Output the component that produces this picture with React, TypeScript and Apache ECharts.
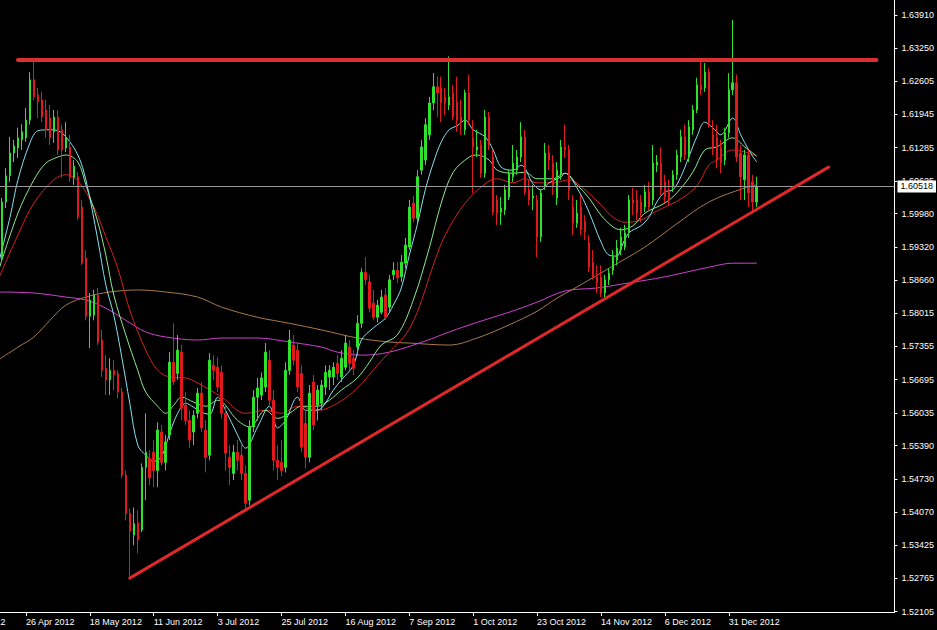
import React, { useEffect, useRef } from 'react';
import * as echarts from 'echarts';

// ---- Candles [open, close, low, high] grouped by month ----
const candlesApr2012 = [
  [1.5910, 1.6021, 1.5902, 1.6029], [1.6021, 1.6073, 1.6009, 1.6088], [1.6073, 1.6118, 1.6061, 1.6150],
  [1.6118, 1.6132, 1.6100, 1.6144], [1.6128, 1.6148, 1.6108, 1.6168], [1.6144, 1.6160, 1.6124, 1.6175],
  [1.6148, 1.6183, 1.6140, 1.6207], [1.6183, 1.6263, 1.6174, 1.6278], [1.6263, 1.6229, 1.6223, 1.6301],
];
const candlesMay2012 = [
  [1.6233, 1.6219, 1.6187, 1.6247], [1.6223, 1.6189, 1.6179, 1.6239], [1.6203, 1.6164, 1.6148, 1.6223],
  [1.6187, 1.6148, 1.6134, 1.6213], [1.6160, 1.6189, 1.6138, 1.6203], [1.6189, 1.6124, 1.6114, 1.6203],
  [1.6164, 1.6124, 1.6069, 1.6174], [1.6128, 1.6148, 1.6120, 1.6179], [1.6130, 1.6069, 1.6061, 1.6154],
  [1.6069, 1.6092, 1.6055, 1.6104], [1.6071, 1.5991, 1.5985, 1.6080], [1.6011, 1.5900, 1.5896, 1.6025],
  [1.5910, 1.5795, 1.5787, 1.5926], [1.5795, 1.5827, 1.5732, 1.5841], [1.5797, 1.5837, 1.5787, 1.5847],
  [1.5837, 1.5744, 1.5738, 1.5851], [1.5748, 1.5688, 1.5675, 1.5768], [1.5692, 1.5669, 1.5639, 1.5718],
  [1.5669, 1.5688, 1.5639, 1.5712], [1.5688, 1.5679, 1.5649, 1.5708], [1.5682, 1.5645, 1.5633, 1.5688],
  [1.5645, 1.5481, 1.5475, 1.5653], [1.5481, 1.5405, 1.5391, 1.5490],
];
const candlesJun2012 = [
  [1.5405, 1.5370, 1.5275, 1.5415], [1.5362, 1.5385, 1.5342, 1.5417], [1.5387, 1.5352, 1.5326, 1.5411],
  [1.5372, 1.5496, 1.5368, 1.5504], [1.5496, 1.5526, 1.5431, 1.5603], [1.5514, 1.5475, 1.5461, 1.5530],
  [1.5526, 1.5490, 1.5457, 1.5550], [1.5490, 1.5570, 1.5457, 1.5585], [1.5566, 1.5506, 1.5500, 1.5580],
  [1.5506, 1.5546, 1.5490, 1.5560], [1.5560, 1.5704, 1.5550, 1.5724], [1.5704, 1.5665, 1.5659, 1.5781],
  [1.5682, 1.5728, 1.5669, 1.5758], [1.5724, 1.5613, 1.5589, 1.5738], [1.5619, 1.5589, 1.5580, 1.5645],
  [1.5589, 1.5550, 1.5534, 1.5609], [1.5566, 1.5599, 1.5540, 1.5609], [1.5603, 1.5643, 1.5593, 1.5653],
  [1.5643, 1.5574, 1.5566, 1.5665], [1.5570, 1.5516, 1.5486, 1.5589], [1.5520, 1.5708, 1.5510, 1.5722],
];
const candlesJul2012 = [
  [1.5698, 1.5688, 1.5669, 1.5718], [1.5694, 1.5655, 1.5645, 1.5714], [1.5684, 1.5603, 1.5593, 1.5698],
  [1.5603, 1.5524, 1.5490, 1.5619], [1.5516, 1.5496, 1.5461, 1.5540], [1.5484, 1.5526, 1.5471, 1.5540],
  [1.5526, 1.5510, 1.5490, 1.5550], [1.5520, 1.5484, 1.5471, 1.5540], [1.5484, 1.5425, 1.5409, 1.5500],
  [1.5431, 1.5576, 1.5421, 1.5589], [1.5576, 1.5635, 1.5566, 1.5649], [1.5635, 1.5653, 1.5589, 1.5673],
  [1.5639, 1.5673, 1.5629, 1.5684], [1.5655, 1.5724, 1.5645, 1.5742], [1.5708, 1.5629, 1.5619, 1.5728],
  [1.5629, 1.5510, 1.5490, 1.5649], [1.5510, 1.5496, 1.5471, 1.5540], [1.5506, 1.5490, 1.5479, 1.5550],
  [1.5496, 1.5688, 1.5486, 1.5704], [1.5688, 1.5748, 1.5679, 1.5768], [1.5738, 1.5708, 1.5698, 1.5758],
  [1.5728, 1.5655, 1.5645, 1.5744],
];
const candlesAug2012 = [
  [1.5682, 1.5536, 1.5526, 1.5698], [1.5583, 1.5516, 1.5494, 1.5609], [1.5516, 1.5643, 1.5506, 1.5659],
  [1.5665, 1.5580, 1.5570, 1.5679], [1.5619, 1.5649, 1.5589, 1.5659], [1.5623, 1.5659, 1.5609, 1.5669],
  [1.5655, 1.5684, 1.5639, 1.5698], [1.5675, 1.5688, 1.5649, 1.5698], [1.5675, 1.5694, 1.5659, 1.5704],
  [1.5702, 1.5682, 1.5669, 1.5718], [1.5675, 1.5712, 1.5665, 1.5728], [1.5694, 1.5742, 1.5688, 1.5758],
  [1.5734, 1.5702, 1.5688, 1.5748], [1.5712, 1.5692, 1.5679, 1.5728], [1.5734, 1.5781, 1.5718, 1.5797],
  [1.5781, 1.5882, 1.5772, 1.5890], [1.5882, 1.5867, 1.5857, 1.5912], [1.5863, 1.5811, 1.5803, 1.5877],
  [1.5821, 1.5793, 1.5787, 1.5847], [1.5793, 1.5817, 1.5783, 1.5827], [1.5803, 1.5833, 1.5799, 1.5847],
  [1.5837, 1.5793, 1.5787, 1.5851], [1.5813, 1.5867, 1.5803, 1.5877],
];
const candlesSep2012 = [
  [1.5877, 1.5886, 1.5867, 1.5902], [1.5886, 1.5871, 1.5861, 1.5902], [1.5873, 1.5902, 1.5863, 1.5916],
  [1.5900, 1.5936, 1.5890, 1.5950], [1.5932, 1.6011, 1.5926, 1.6025], [1.6019, 1.5989, 1.5981, 1.6033],
  [1.5989, 1.6071, 1.5981, 1.6084], [1.6084, 1.6130, 1.6075, 1.6144], [1.6104, 1.6174, 1.6094, 1.6187],
  [1.6154, 1.6217, 1.6144, 1.6229], [1.6217, 1.6249, 1.6203, 1.6276], [1.6249, 1.6237, 1.6189, 1.6269],
  [1.6247, 1.6217, 1.6179, 1.6269], [1.6229, 1.6217, 1.6193, 1.6247], [1.6213, 1.6229, 1.6203, 1.6309],
  [1.6237, 1.6189, 1.6183, 1.6253], [1.6219, 1.6183, 1.6160, 1.6269], [1.6189, 1.6179, 1.6154, 1.6223],
  [1.6164, 1.6237, 1.6154, 1.6243], [1.6237, 1.6183, 1.6174, 1.6273],
];
const candlesOct2012 = [
  [1.6148, 1.6130, 1.6039, 1.6183], [1.6124, 1.6130, 1.6110, 1.6164], [1.6134, 1.6078, 1.6069, 1.6144],
  [1.6078, 1.6189, 1.6069, 1.6203], [1.6189, 1.6134, 1.6124, 1.6199], [1.6110, 1.6001, 1.5995, 1.6124],
  [1.6025, 1.5999, 1.5976, 1.6035], [1.6001, 1.6009, 1.5976, 1.6031], [1.6005, 1.6045, 1.5995, 1.6055],
  [1.6031, 1.6078, 1.6025, 1.6084], [1.6071, 1.6098, 1.6061, 1.6134], [1.6084, 1.6110, 1.6075, 1.6124],
  [1.6110, 1.6150, 1.6100, 1.6179], [1.6150, 1.6041, 1.6035, 1.6164], [1.6045, 1.6025, 1.6015, 1.6065],
  [1.6029, 1.6033, 1.6005, 1.6055], [1.6025, 1.5952, 1.5912, 1.6035], [1.5952, 1.6039, 1.5942, 1.6045],
  [1.6051, 1.6118, 1.6045, 1.6138], [1.6118, 1.6104, 1.6084, 1.6134], [1.6098, 1.6051, 1.6035, 1.6114],
  [1.6029, 1.6084, 1.6015, 1.6100], [1.6075, 1.6130, 1.6065, 1.6144],
];
const candlesNov2012 = [
  [1.6130, 1.6124, 1.6108, 1.6174], [1.6124, 1.6045, 1.6025, 1.6134], [1.6011, 1.5979, 1.5956, 1.6035],
  [1.5979, 1.5999, 1.5970, 1.6025], [1.6011, 1.5966, 1.5956, 1.6035], [1.5983, 1.5962, 1.5946, 1.5995],
  [1.5940, 1.5892, 1.5882, 1.5956], [1.5902, 1.5873, 1.5867, 1.5926], [1.5873, 1.5861, 1.5841, 1.5896],
  [1.5873, 1.5841, 1.5833, 1.5896], [1.5841, 1.5867, 1.5833, 1.5877], [1.5867, 1.5880, 1.5857, 1.5890],
  [1.5886, 1.5912, 1.5877, 1.5926], [1.5906, 1.5930, 1.5896, 1.5946], [1.5926, 1.5952, 1.5916, 1.5970],
  [1.5932, 1.5960, 1.5926, 1.5976], [1.5960, 1.6025, 1.5950, 1.6035], [1.6025, 1.6019, 1.5995, 1.6049],
  [1.6025, 1.5999, 1.5985, 1.6045], [1.6021, 1.5999, 1.5981, 1.6035], [1.6011, 1.6041, 1.6001, 1.6055],
  [1.6041, 1.6011, 1.6005, 1.6061],
];
const candlesDec2012 = [
  [1.6025, 1.6098, 1.6015, 1.6134], [1.6094, 1.6100, 1.6080, 1.6114], [1.6098, 1.6045, 1.6035, 1.6130],
  [1.6061, 1.6031, 1.6019, 1.6075], [1.6041, 1.6025, 1.6015, 1.6065], [1.6051, 1.6075, 1.6041, 1.6084],
  [1.6075, 1.6114, 1.6065, 1.6124], [1.6110, 1.6150, 1.6100, 1.6164], [1.6150, 1.6114, 1.6104, 1.6174],
  [1.6110, 1.6170, 1.6100, 1.6183], [1.6164, 1.6203, 1.6154, 1.6213], [1.6203, 1.6253, 1.6197, 1.6267],
  [1.6253, 1.6243, 1.6233, 1.6298], [1.6247, 1.6278, 1.6239, 1.6296], [1.6278, 1.6177, 1.6168, 1.6286],
  [1.6154, 1.6130, 1.6114, 1.6183], [1.6148, 1.6104, 1.6088, 1.6174], [1.6128, 1.6098, 1.6078, 1.6144],
  [1.6104, 1.6158, 1.6094, 1.6168], [1.6158, 1.6243, 1.6148, 1.6276],
];
const candlesJan2013 = [
  [1.6243, 1.6257, 1.6233, 1.6381], [1.6257, 1.6110, 1.6100, 1.6273], [1.6118, 1.6071, 1.6025, 1.6134],
  [1.6065, 1.6114, 1.6025, 1.6124], [1.6114, 1.6039, 1.6011, 1.6124], [1.6061, 1.6021, 1.6001, 1.6075],
  [1.6021, 1.60518, 1.6011, 1.6071],
];

// ---- Moving averages: [bar index, price] ----
const maFast = [[-1,1.5896],[2,1.5991],[4,1.6065],[7,1.6138],[9,1.6162],[12,1.6164],[14,1.6162],[16,1.6150],[19,1.6114],[21,1.6065],[24,1.5946],[26,1.5857],[28,1.5797],[30,1.5714],[32,1.5623],[34,1.5540],[36,1.5520],[38,1.5508],[40,1.5518],[42,1.5564],[44,1.5603],[46,1.5623],[48,1.5615],[50,1.5605],[52,1.5601],[54,1.5635],[56,1.5609],[59,1.5560],[61,1.5534],[64,1.5576],[67,1.5617],[69,1.5574],[71,1.5589],[74,1.5635],[76,1.5609],[78,1.5609],[80,1.5613],[83,1.5649],[85,1.5669],[88,1.5698],[90,1.5748],[93,1.5772],[96,1.5791],[98,1.5817],[100,1.5851],[102,1.5916],[104,1.5976],[106,1.6045],[108,1.6098],[110,1.6140],[112,1.6164],[114,1.6172],[116,1.6183],[118,1.6164],[121,1.6150],[123,1.6124],[125,1.6090],[128,1.6084],[130,1.6094],[133,1.6057],[135,1.6045],[137,1.6059],[140,1.6071],[141,1.6078],[144,1.6049],[147,1.6001],[150,1.5942],[152,1.5916],[154,1.5914],[155,1.5930],[157,1.5960],[160,1.5974],[162,1.5991],[164,1.6021],[166,1.6041],[168,1.6045],[170,1.6071],[172,1.6110],[174,1.6150],[176,1.6179],[178,1.6168],[180,1.6154],[183,1.6187],[185,1.6154],[187,1.6124],[189,1.6100]];
const maMid = [[-1,1.5882],[4,1.5999],[8,1.6065],[11,1.6098],[14,1.6110],[16,1.6114],[19,1.6100],[21,1.6055],[24,1.5981],[26,1.5916],[28,1.5837],[31,1.5758],[34,1.5688],[36,1.5645],[39,1.5617],[41,1.5603],[43,1.5619],[45,1.5635],[48,1.5625],[51,1.5617],[54,1.5629],[59,1.5589],[62,1.5576],[66,1.5609],[69,1.5593],[72,1.5603],[75,1.5617],[79,1.5617],[82,1.5629],[85,1.5649],[89,1.5673],[92,1.5704],[95,1.5738],[99,1.5758],[103,1.5827],[107,1.5930],[110,1.6019],[113,1.6080],[117,1.6110],[119,1.6114],[122,1.6104],[124,1.6084],[128,1.6078],[131,1.6080],[134,1.6067],[138,1.6067],[141,1.6078],[144,1.6055],[147,1.6029],[150,1.5995],[153,1.5972],[155,1.5966],[158,1.5974],[161,1.5999],[166,1.6019],[169,1.6039],[173,1.6080],[176,1.6124],[179,1.6130],[183,1.6148],[186,1.6130],[189,1.6112]];
const maSlow = [[-1,1.5867],[4,1.5956],[8,1.6019],[13,1.6065],[16,1.6075],[19,1.6063],[23,1.6011],[26,1.5952],[29,1.5890],[32,1.5807],[36,1.5728],[39,1.5688],[42,1.5675],[46,1.5673],[49,1.5663],[55,1.5635],[61,1.5603],[66,1.5609],[70,1.5603],[74,1.5617],[79,1.5609],[84,1.5623],[89,1.5653],[94,1.5698],[97,1.5724],[101,1.5758],[104,1.5803],[108,1.5896],[111,1.5956],[116,1.6019],[121,1.6057],[124,1.6067],[128,1.6059],[131,1.6067],[134,1.6059],[138,1.6059],[142,1.6065],[146,1.6045],[150,1.6015],[153,1.5991],[156,1.5981],[160,1.5985],[163,1.5999],[166,1.6011],[170,1.6027],[174,1.6053],[177,1.6094],[179,1.6104],[183,1.6124],[186,1.6120],[189,1.6112]];
const ma100 = [[-1,1.5708],[4,1.5734],[8,1.5754],[12,1.5787],[16,1.5817],[21,1.5833],[27,1.5843],[34,1.5847],[41,1.5843],[49,1.5833],[55,1.5813],[64,1.5793],[72,1.5781],[80,1.5768],[89,1.5752],[97,1.5744],[102,1.5742],[112,1.5738],[119,1.5752],[127,1.5778],[134,1.5805],[139,1.5831],[144,1.5853],[152,1.5890],[161,1.5932],[169,1.5978],[177,1.6021],[186,1.6049],[189,1.6055]];
const ma200 = [[-1,1.5843],[8,1.5841],[16,1.5833],[21,1.5827],[26,1.5811],[31,1.5787],[36,1.5764],[41,1.5754],[49,1.5748],[55,1.5752],[64,1.5752],[72,1.5744],[80,1.5734],[84,1.5724],[90,1.5718],[97,1.5724],[106,1.5746],[112,1.5764],[119,1.5783],[127,1.5803],[134,1.5823],[141,1.5845],[149,1.5851],[157,1.5861],[166,1.5873],[177,1.5892],[183,1.5900],[189,1.5900]];

// ---- Drawn lines ----
const resistance = { fromBar: 4, toBar: 219, price: 1.6302 };
const trendStart = [32, 1.5277];
const trendEnd = [207, 1.6090];
const bidPrice = 1.60518;

// ---- Price axis labels ----
const priceTicks = ['1.63910','1.63250','1.62605','1.61945','1.61285','1.60625','1.59980','1.59320','1.58660','1.58015','1.57355','1.56695','1.56035','1.55390','1.54730','1.54070','1.53425','1.52765','1.52105'];

// ---- Sessions (trading days, first visible bar 18 Apr 2012) ----
const TOTAL_SLOTS = 224;
const LABEL_STEP = 16;
const LABEL_OFFSET = 10; // sessions between the scrolled-off label date and the first visible bar
const OFFSCREEN_LABEL = '4 Apr 2012'; // label of the session scrolled off the left edge
const HOLIDAYS = ['2012-12-25', '2013-01-01'];
const MONTHS = ['Jan','Feb','Mar','Apr','May','Jun','Jul','Aug','Sep','Oct','Nov','Dec'];

function buildSessions(): string[] {
  const out: string[] = [];
  const d = new Date(Date.UTC(2012, 3, 18));
  while (out.length < TOTAL_SLOTS) {
    const dow = d.getUTCDay();
    const iso = d.toISOString().slice(0, 10);
    if (dow !== 0 && dow !== 6 && HOLIDAYS.indexOf(iso) < 0) {
      out.push(`${d.getUTCDate()} ${MONTHS[d.getUTCMonth()]} ${d.getUTCFullYear()}`);
    }
    d.setUTCDate(d.getUTCDate() + 1);
  }
  return out;
}

const FONT = "'Liberation Sans', Arial, sans-serif";
const UP = '#2fe02f';
const DOWN = '#e01a1a';

export default function App() {
  const ref = useRef<HTMLDivElement>(null);
  useEffect(() => {
    if (!ref.current) return;
    const chart = echarts.init(ref.current, undefined, { renderer: 'svg' });
    const sessions = buildSessions();
    const candles = [
      ...candlesApr2012, ...candlesMay2012, ...candlesJun2012, ...candlesJul2012, ...candlesAug2012,
      ...candlesSep2012, ...candlesOct2012, ...candlesNov2012, ...candlesDec2012, ...candlesJan2013,
    ];
    const lastCat = candles.length - 1;
    const labelFn = (i: number) => (i + LABEL_OFFSET) % LABEL_STEP === 0 && i <= lastCat;
    const tickValues = priceTicks.map((t) => parseFloat(t));

    const maLine = (name: string, pts: number[][], color: string, extra: any = {}) => ({
      name, type: 'line', data: pts, smooth: 0.35, showSymbol: false, symbol: 'none',
      lineStyle: { color, width: 1 }, z: 2, silent: true, ...extra,
    });

    chart.setOption({
      animation: false,
      backgroundColor: '#000',
      textStyle: { fontFamily: FONT },
      grid: { left: 0, top: 0, width: 896, height: 612 },
      xAxis: {
        type: 'category', data: sessions, boundaryGap: true,
        axisLine: { show: true, lineStyle: { color: '#fff', width: 1 } },
        axisTick: { show: true, alignWithLabel: true, interval: labelFn, length: 4, lineStyle: { color: '#fff' } },
        axisLabel: { interval: labelFn, align: 'left', color: '#fff', fontSize: 9, fontFamily: FONT, margin: 5 },
        splitLine: { show: false },
      },
      yAxis: {
        type: 'value', position: 'right', min: 1.52099, max: 1.64207,
        axisLine: { show: true, lineStyle: { color: '#fff', width: 1 } },
        axisTick: { show: true, length: 3, lineStyle: { color: '#fff' }, customValues: tickValues },
        axisLabel: { customValues: tickValues, formatter: (v: number) => v.toFixed(5), color: '#fff', fontSize: 9, fontFamily: FONT, margin: 7 },
        splitLine: { show: false },
      },
      series: [
        maLine('MA200', ma200, '#d040d0', {
          markLine: {
            silent: true, symbol: ['none', 'none'], animation: false, precision: 5,
            data: [{
              yAxis: bidPrice, lineStyle: { color: '#9a9a9a', width: 1, type: 'solid' },
              label: { show: true, position: 'end', distance: 3, formatter: bidPrice.toFixed(5), backgroundColor: '#fff', color: '#000', padding: [2, 3, 1, 3], fontSize: 9, fontFamily: FONT },
            }],
          },
        }),
        maLine('MA100', ma100, '#a87a4c'),
        maLine('MA slow', maSlow, '#d42020'),
        maLine('MA mid', maMid, '#8ee88e'),
        maLine('MA fast', maFast, '#84e0f0'),
        {
          type: 'candlestick', data: candles, barWidth: 2, z: 3,
          itemStyle: { color: UP, color0: DOWN, borderColor: UP, borderColor0: DOWN, borderWidth: 1 },
          markLine: {
            silent: true, symbol: ['none', 'none'], animation: false, precision: 5,
            data: [
              [
                { coord: [resistance.fromBar, resistance.price], lineStyle: { color: '#dc3030', width: 4, type: 'solid', cap: 'round' }, label: { show: false } },
                { coord: [resistance.toBar, resistance.price] },
              ],
              [
                { coord: [trendStart[0], trendStart[1]], lineStyle: { color: '#e02828', width: 3, type: 'solid', cap: 'round' }, label: { show: false } },
                { coord: [trendEnd[0], trendEnd[1]] },
              ],
            ],
          },
        },
      ],
    });

    // date label of the session scrolled off the left edge (only its tail is visible)
    const x0 = chart.convertToPixel({ xAxisIndex: 0 }, 0) as number;
    const x1 = chart.convertToPixel({ xAxisIndex: 0 }, 1) as number;
    const labelX = x0 - LABEL_OFFSET * (x1 - x0);
    chart.setOption({
      graphic: [{
        type: 'text', x: labelX, y: 617, silent: true,
        style: { text: OFFSCREEN_LABEL, fill: '#fff', fontSize: 9, fontFamily: FONT, verticalAlign: 'top' },
      }],
    });
    return () => chart.dispose();
  }, []);
  return <div ref={ref} style={{ position: 'fixed', left: 0, top: 0, width: 937, height: 630, background: '#000' }} />;
}
